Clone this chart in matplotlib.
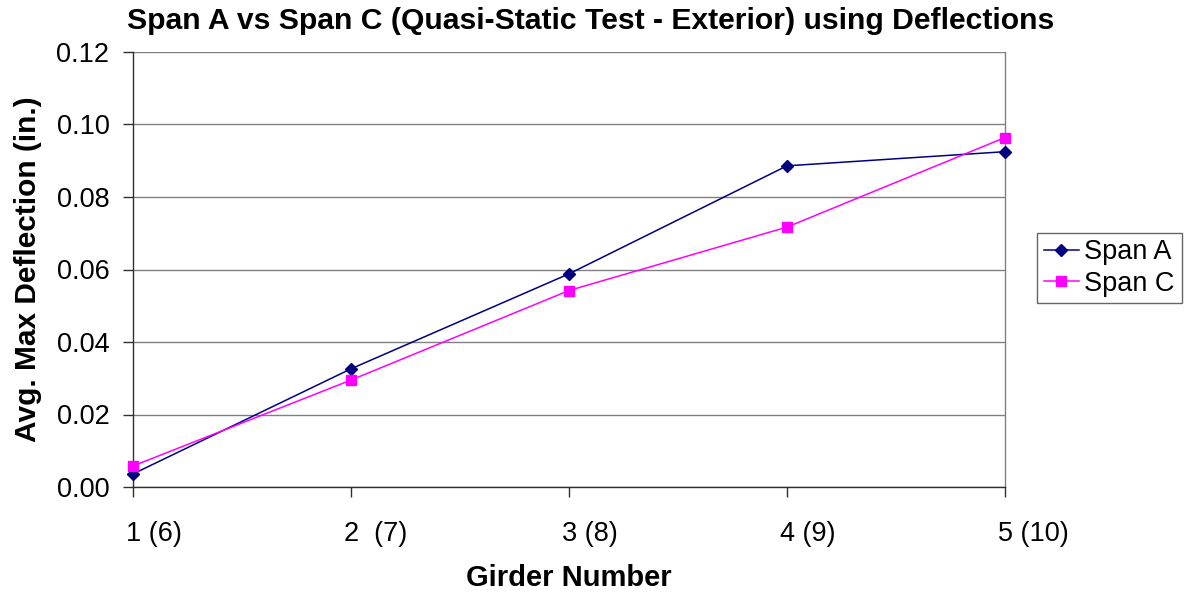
import numpy as np
import matplotlib.pyplot as plt

plt.rcParams['font.family'] = ['Liberation Sans', 'DejaVu Sans']

# ------------------------------------------------
#           DATA
# ------------------------------------------------
girders = [1, 2, 3, 4, 5]
tick_labels = ['1 (6)', '2  (7)', '3 (8)', '4 (9)', '5 (10)']
span_a = [0.0036, 0.0326, 0.0588, 0.0886, 0.0925]
span_c = [0.0058, 0.0295, 0.0542, 0.0717, 0.0964]
y_ticks = [0.00, 0.02, 0.04, 0.06, 0.08, 0.10, 0.12]

fig = plt.figure(figsize=(11.86, 5.94), dpi=100)
ax = fig.add_axes([133 / 1186, 1 - 487 / 594, 872 / 1186, 435 / 594])

ax.plot(girders, span_a, color='#000080', marker='D', markersize=6,
        linewidth=1.1, label='Span A', clip_on=False, zorder=3)
ax.plot(girders, span_c, color='#FF00FF', marker='s', markersize=6.5,
        linewidth=1.1, label='Span C', clip_on=False, zorder=3)

ax.set_xlim(1, 5)
ax.set_ylim(0, 0.12)
ax.set_yticks(y_ticks)
ax.set_yticklabels(['%.2f' % v for v in y_ticks])
ax.set_xticks(girders)
ax.set_xticklabels([])
# x labels: the girder number sits under the tick, pair number to the right
for g, lab in zip(girders, tick_labels):
    ax.annotate(lab, xy=(g, 0), xycoords=('data', 'axes fraction'),
                xytext=(-5.2, -39), textcoords='offset points',
                ha='left', va='baseline', fontsize=19.5, annotation_clip=False)

ax.grid(axis='y', color='#808080', linewidth=1)
ax.set_axisbelow(True)
ax.tick_params(axis='both', labelsize=19.5, length=7, width=1, color='#303030')
ax.tick_params(axis='y', pad=10)

ax.spines['top'].set_visible(False)
ax.spines['right'].set_color('#808080')
ax.spines['left'].set_color('#303030')
ax.spines['bottom'].set_color('#303030')
for s in ax.spines.values():
    s.set_linewidth(1)

ax.set_xlabel('Girder Number', fontsize=21, fontweight='bold')
ax.xaxis.set_label_coords(0.5, -(578 - 487) / 435)
ax.xaxis.label.set_va('center')
ax.set_ylabel('Avg. Max Deflection (in.)', fontsize=21.5, fontweight='bold', labelpad=10)
fig.suptitle('Span A vs Span C (Quasi-Static Test - Exterior) using Deflections',
             x=591 / 1186, y=1 - 21 / 594, va='center', fontsize=21.7, fontweight='bold')

leg = fig.legend(loc='center left', bbox_to_anchor=(1037 / 1186, 1 - 268 / 594),
                 fontsize=19.5, frameon=True, fancybox=False, borderpad=0.25,
                 handlelength=1.3, handletextpad=0.2, labelspacing=0.2,
                 borderaxespad=0)
leg.get_frame().set_edgecolor('#404040')
leg.get_frame().set_linewidth(1)

plt.savefig('out.png', dpi=100)
